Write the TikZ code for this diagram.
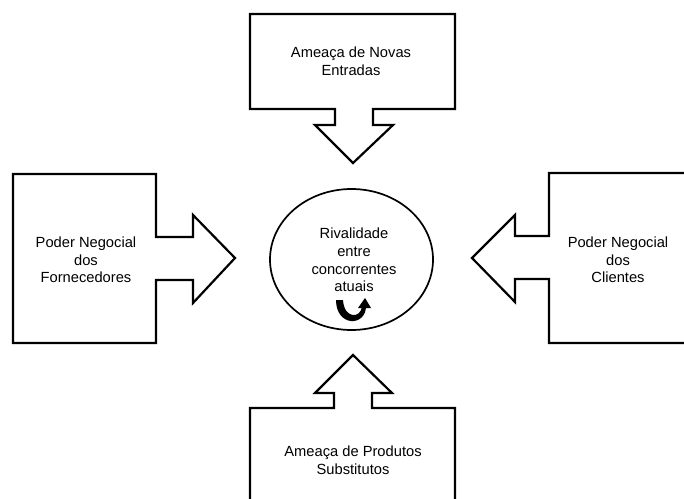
\documentclass[tikz,border=0pt]{standalone}
\usepackage{fontspec}
\setmainfont{Liberation Sans}
\usetikzlibrary{shapes.geometric}
\begin{document}
\begin{tikzpicture}[x=1pt,y=-1pt,
  blockarrow/.style={draw=black,line width=2.2pt,line join=miter,fill=white},
  lbl/.style={align=center,font=\fontsize{14.7}{17.6}\selectfont,inner sep=0pt},
  rival/.style={draw=black,line width=1.7pt,ellipse,minimum width=163pt,minimum height=141pt,inner sep=0pt}]
\useasboundingbox (0,0) rectangle (684,498);
\clip (0,0) rectangle (684,498);
% top
\draw[blockarrow] (250,14) -- (455,14) -- (455,109) -- (373,109) -- (373,125) -- (393,125) -- (353,163) -- (315,125) -- (335,125) -- (335,109) -- (250,109) -- cycle;
% bottom
\draw[blockarrow] (250,520) -- (250,408) -- (334,408) -- (334,393) -- (315,393) -- (353,355) -- (392,393) -- (372,393) -- (372,408) -- (455,408) -- (455,520);
% left
\draw[blockarrow] (13,174) -- (156,174) -- (156,237) -- (193,237) -- (193,215) -- (235,258) -- (193,303) -- (193,280) -- (156,280) -- (156,343) -- (13,343) -- cycle;
% right
\draw[blockarrow] (700,173) -- (549,173) -- (549,236) -- (515,236) -- (515,215) -- (472,258) -- (515,302) -- (515,279) -- (549,279) -- (549,343) -- (700,343);
% centre
\node[rival] (rv) at (351.5,259.5) {};
\node[lbl] (rvt) at (354,260) {Rivalidade\\entre\\concorrentes\\atuais};
% U-turn arrow
\fill (336,300) .. controls (336,327) and (366,327) .. (366,306) -- (362,306) .. controls (361,319) and (344,319) .. (343,300) -- cycle;
\fill (358,308) -- (365,298) -- (371,308) -- cycle;
% labels
\node[lbl] (top) at (351,61) {Ameaça de Novas\\Entradas};
\node[lbl] (bot) at (353,460) {Ameaça de Produtos\\Substitutos};
\node[lbl] (lft) at (86,260) {Poder Negocial\\dos\\Fornecedores};
\node[lbl] (rgt) at (618,260) {Poder Negocial\\dos\\Clientes};
\end{tikzpicture}
\end{document}
